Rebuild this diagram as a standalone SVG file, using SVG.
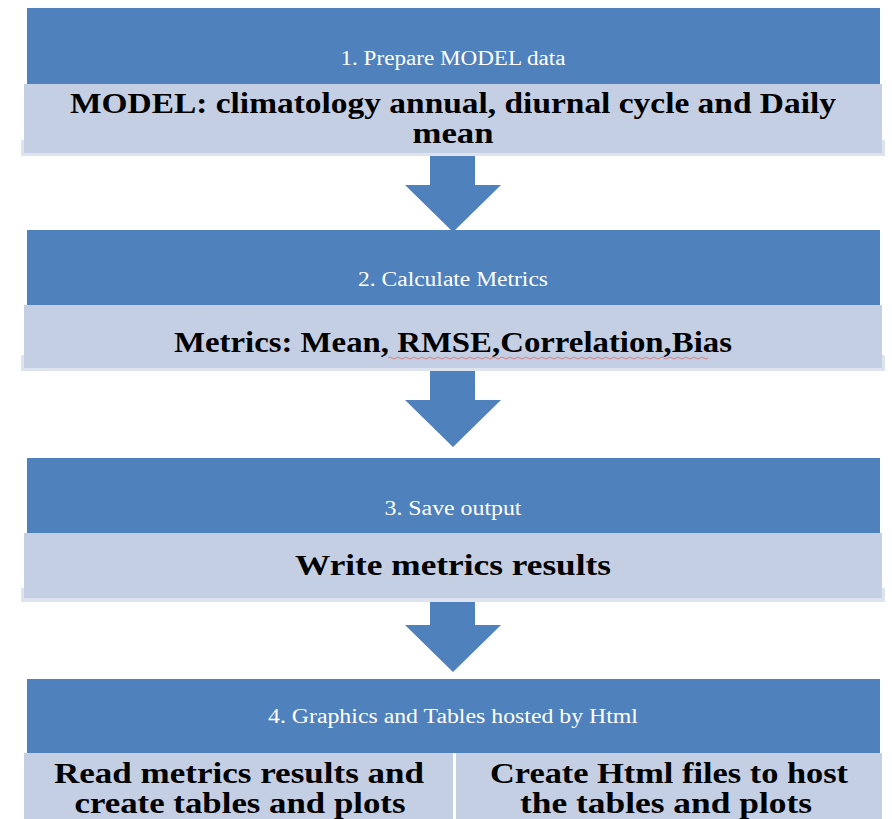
<svg xmlns="http://www.w3.org/2000/svg" width="892" height="819" viewBox="0 0 892 819">
<style>
.blue{fill:#4f81bd}
.light{fill:#c5cfe4}
.shadow{fill:#dde3ef}
.arrow{fill:#4f81bd}
.t{font-family:"Liberation Serif",serif;font-size:20px;fill:#ffffff;text-anchor:middle}
.b{font-family:"Liberation Serif",serif;font-weight:bold;font-size:29px;fill:#000000;text-anchor:middle}
</style>
<rect width="892" height="819" fill="#ffffff"/>
<g id="connectors">
<polygon class="arrow" points="430,150 475,150 475,185 501,185 453,232 405,185 430,185"/>
<polygon class="arrow" points="430,368 475,368 475,400 501,400 453,447 405,400 430,400"/>
<polygon class="arrow" points="430,598 475,598 475,625 501,625 453,672 405,625 430,625"/>
</g>
<g id="step1">
<rect class="blue" x="27" y="8" width="853" height="76"/>
<text class="t" x="453" y="65" textLength="225" lengthAdjust="spacingAndGlyphs">1. Prepare MODEL data</text>
<rect class="shadow" x="21" y="140" width="864" height="16"/>
<rect class="light" x="24" y="84" width="858" height="69"/>
<text class="b" x="453" y="113" textLength="766" lengthAdjust="spacingAndGlyphs">MODEL: climatology annual, diurnal cycle and Daily</text>
<text class="b" x="453" y="143" textLength="81" lengthAdjust="spacingAndGlyphs">mean</text>
</g>
<g id="step2">
<rect class="blue" x="27" y="230" width="853" height="75"/>
<text class="t" x="453" y="286" textLength="190" lengthAdjust="spacingAndGlyphs">2. Calculate Metrics</text>
<rect class="shadow" x="21" y="355" width="864" height="16"/>
<rect class="light" x="24" y="305" width="858" height="63"/>
<text class="b" x="453" y="352" textLength="558" lengthAdjust="spacingAndGlyphs">Metrics: Mean, RMSE,Correlation,Bias</text>
<path d="M388,358 q2,-2 4,0 t4,0 t4,0 t4,0 t4,0 t4,0 t4,0 t4,0 t4,0 t4,0 t4,0 t4,0 t4,0 t4,0 t4,0 t4,0 t4,0 t4,0 t4,0 t4,0 t4,0 t4,0 t4,0 t4,0 t4,0 t4,0 t4,0 t4,0 t4,0 t4,0 t4,0 t4,0 t4,0 t4,0 t4,0 t4,0 t4,0 t4,0 t4,0 t4,0 t4,0 t4,0 t4,0 t4,0 t4,0 t4,0 t4,0 t4,0 t4,0 t4,0 t4,0 t4,0 t4,0 t4,0 t4,0 t4,0 t4,0 t4,0 t4,0 t4,0 t4,0 t4,0 t4,0 t4,0 t4,0 t4,0 t4,0 t4,0 t4,0 t4,0 t4,0 t4,0 t4,0 t4,0 t4,0 t4,0 t4,0 t4,0 t4,0 t4,0" fill="none" stroke="#d9807a" stroke-width="1"/>
</g>
<g id="step3">
<rect class="blue" x="27" y="458" width="853" height="75"/>
<text class="t" x="453" y="515" textLength="137" lengthAdjust="spacingAndGlyphs">3. Save output</text>
<rect class="shadow" x="21" y="588" width="864" height="14"/>
<rect class="light" x="24" y="533" width="858" height="65"/>
<text class="b" x="453" y="575" textLength="316" lengthAdjust="spacingAndGlyphs">Write metrics results</text>
</g>
<g id="step4">
<rect class="blue" x="27" y="679" width="853" height="74"/>
<text class="t" x="453" y="723" textLength="370" lengthAdjust="spacingAndGlyphs">4. Graphics and Tables hosted by Html</text>
<rect class="light" x="24" y="753" width="429" height="66"/>
<rect class="light" x="456" y="753" width="426" height="66"/>
<text class="b" x="239" y="783" textLength="370" lengthAdjust="spacingAndGlyphs">Read metrics results and</text>
<text class="b" x="240" y="813" textLength="331" lengthAdjust="spacingAndGlyphs">create tables and plots</text>
<text class="b" x="669" y="783" textLength="358" lengthAdjust="spacingAndGlyphs">Create Html files to host</text>
<text class="b" x="666" y="813" textLength="292" lengthAdjust="spacingAndGlyphs">the tables and plots</text>
</g>
</svg>
